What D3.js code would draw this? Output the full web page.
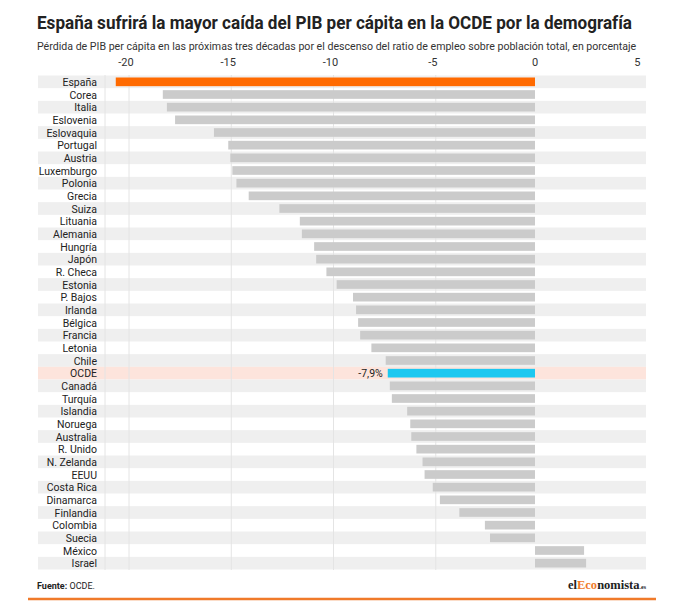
<!DOCTYPE html><html><head><meta charset="utf-8"><script src="https://cdn.jsdelivr.net/npm/d3@7"></script>
<style>body{margin:0;background:#fff}text{font-family:Roboto,"Liberation Sans",sans-serif}</style></head><body><svg id="c" width="680" height="615"></svg>
<script>
const countries=["España","Corea","Italia","Eslovenia","Eslovaquia","Portugal","Austria","Luxemburgo","Polonia","Grecia","Suiza","Lituania","Alemania","Hungría","Japón","R. Checa","Estonia","P. Bajos","Irlanda","Bélgica","Francia","Letonia","Chile","OCDE","Canadá","Turquía","Islandia","Noruega","Australia","R. Unido","N. Zelanda","EEUU","Costa Rica","Dinamarca","Finlandia","Colombia","Suecia","México","Israel"];
const values=[-20.5,-18.2,-18.0,-17.6,-15.7,-15.0,-14.9,-14.8,-14.6,-14.0,-12.5,-11.5,-11.4,-10.8,-10.7,-10.2,-9.7,-8.9,-8.75,-8.65,-8.55,-8.0,-7.3,-7.2,-7.1,-7.0,-6.25,-6.1,-6.05,-5.8,-5.5,-5.4,-5.0,-4.65,-3.7,-2.45,-2.2,2.4,2.5];
const ticks=[-20,-15,-10,-5,0,5];
const ocdeLabel="-7,9%";
const svg=d3.select("#c");
const x=d3.scaleLinear().domain([-20,0]).range([126,535]);
const y=d3.scaleBand().domain(countries).range([75.5,569.5]).paddingInner(0);
svg.append("text").attr("transform","translate(37,29) scale(0.9,1)").attr("font-size",19).attr("font-weight","bold").attr("fill","#222").text("España sufrirá la mayor caída del PIB per cápita en la OCDE por la demografía");
svg.append("text").attr("x",37).attr("y",50).attr("font-size",10.6).attr("fill","#333").text("Pérdida de PIB per cápita en las próximas tres décadas por el descenso del ratio de empleo sobre población total, en porcentaje");
countries.forEach((c,i)=>{
  const col=c==="OCDE"?"#fde4dc":(i%2===0?"#efefef":"none");
  if(col!=="none")svg.append("rect").attr("x",38).attr("width",608).attr("y",y(c)).attr("height",y.bandwidth()).attr("fill",col);
});
ticks.forEach(t=>{
  if(t!==0&&t!==5) svg.append("line").attr("x1",x(t)+3).attr("x2",x(t)+3).attr("y1",75).attr("y2",570).attr("stroke","#e4e4e4");
  svg.append("text").attr("x",x(t)).attr("y",66).attr("text-anchor","middle").attr("font-size",11).attr("fill","#333").text(t);
});
svg.append("line").attr("x1",105).attr("x2",105).attr("y1",75).attr("y2",570).attr("stroke","#e4e4e4");
countries.forEach((c,i)=>{
  const v=values[i];
  const col=c==="España"?"#ff6a00":(c==="OCDE"?"#1ec8f0":"#cbcbcb");
  svg.append("rect").attr("x",Math.min(x(v),x(0))).attr("width",Math.abs(x(v)-x(0))).attr("y",y(c)+2).attr("height",y.bandwidth()-4).attr("fill",col);
  svg.append("text").attr("x",97).attr("y",y(c)+y.bandwidth()/2+4).attr("text-anchor","end").attr("font-size",10.5).attr("fill","#222").text(c);
  if(c==="OCDE") svg.append("text").attr("x",x(v)-5).attr("y",y(c)+y.bandwidth()/2+4).attr("text-anchor","end").attr("font-size",10.5).attr("fill","#222").text(ocdeLabel);
});
const f=svg.append("text").attr("x",37).attr("y",589).attr("font-size",9).attr("fill","#222");
f.append("tspan").attr("font-weight","bold").text("Fuente:");f.append("tspan").text(" OCDE.");
const l=svg.append("text").attr("x",646).attr("y",589).attr("text-anchor","end").style("font-family","'Liberation Serif',serif").attr("font-weight","bold").attr("font-size",12.5).attr("fill","#222");
l.append("tspan").text("el");l.append("tspan").attr("fill","#f07a2a").text("Eco");l.append("tspan").text("nomista");l.append("tspan").attr("font-size",6).text(".es");
svg.append("line").attr("x1",28).attr("x2",656).attr("y1",599).attr("y2",599).attr("stroke","#f07a2a").attr("stroke-width",2.5);
</script></body></html>
